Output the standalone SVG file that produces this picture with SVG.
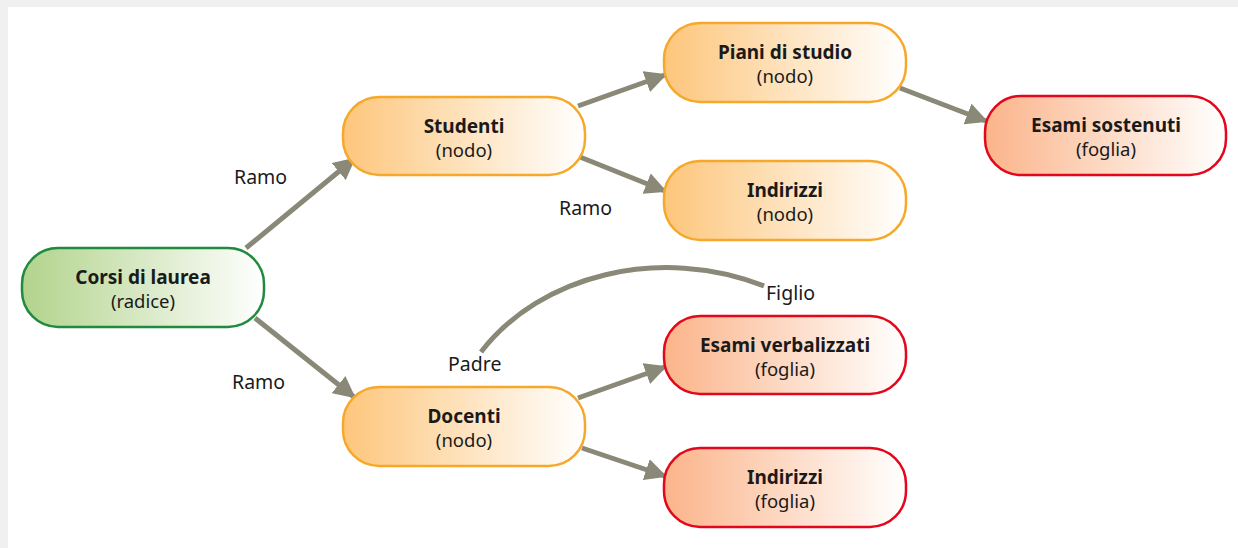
<svg xmlns="http://www.w3.org/2000/svg" width="1238" height="548" viewBox="0 0 1238 548">
<defs>
<linearGradient id="gGreen" x1="0" y1="0" x2="1" y2="0"><stop offset="0" stop-color="#b2d38c"/><stop offset="1" stop-color="#ffffff"/></linearGradient>
<linearGradient id="gOrange" x1="0" y1="0" x2="1" y2="0"><stop offset="0" stop-color="#fdc67c"/><stop offset="1" stop-color="#ffffff"/></linearGradient>
<linearGradient id="gRed" x1="0" y1="0" x2="1" y2="0"><stop offset="0" stop-color="#fbb48a"/><stop offset="1" stop-color="#ffffff"/></linearGradient>
<marker id="arr" viewBox="0 0 10 10" refX="9" refY="5" markerWidth="4.4" markerHeight="4.4" markerUnits="strokeWidth" orient="auto"><path d="M0,0 L10,5 L0,10 z" fill="#8a8877"/></marker>
</defs>
<style>
.box{stroke-width:2.5}
.green{fill:url(#gGreen);stroke:#1e8b3e}
.orange{fill:url(#gOrange);stroke:#f6a82a}
.red{fill:url(#gRed);stroke:#e2071b}
.t{font-family:"Noto Sans","Open Sans",sans-serif;font-size:18.5px;fill:#1a1a1a;text-anchor:middle}
.b{font-weight:700;font-size:19px}
.lbl{font-family:"Noto Sans","Open Sans",sans-serif;font-size:19.5px;fill:#1a1a1a}
.edge{stroke:#8a8877;stroke-width:5;fill:none}
</style>
<rect x="0" y="0" width="1238" height="548" fill="#f0f0f0"/>
<rect x="8" y="7" width="1230" height="541" fill="#ffffff"/>
<g id="connectors">
<line class="edge" x1="246" y1="248" x2="354" y2="159" marker-end="url(#arr)"/>
<line class="edge" x1="255" y1="318" x2="354" y2="397" marker-end="url(#arr)"/>
<line class="edge" x1="578" y1="106" x2="665" y2="75" marker-end="url(#arr)"/>
<line class="edge" x1="580" y1="157" x2="665" y2="191" marker-end="url(#arr)"/>
<line class="edge" x1="900" y1="88" x2="986" y2="121" marker-end="url(#arr)"/>
<line class="edge" x1="578" y1="398" x2="665" y2="367" marker-end="url(#arr)"/>
<line class="edge" x1="582" y1="448" x2="665" y2="476" marker-end="url(#arr)"/>
<path class="edge" d="M481,352 C540,275 660,245 764,286"/>
</g>
<g id="labels">
<text class="lbl" x="234" y="184">Ramo</text>
<text class="lbl" x="559" y="215">Ramo</text>
<text class="lbl" x="232" y="389">Ramo</text>
<text class="lbl" x="448" y="371">Padre</text>
<text class="lbl" x="766" y="300">Figlio</text>
</g>
<g id="corsi"><rect class="box green" x="22" y="248" width="242" height="79" rx="36"/><text class="t b" x="143" y="284">Corsi di laurea</text><text class="t" x="143" y="308">(radice)</text></g>
<g id="studenti"><rect class="box orange" x="343" y="97" width="242" height="78" rx="36"/><text class="t b" x="464" y="133">Studenti</text><text class="t" x="464" y="157">(nodo)</text></g>
<g id="piani"><rect class="box orange" x="664" y="23" width="242" height="79" rx="36"/><text class="t b" x="785" y="59">Piani di studio</text><text class="t" x="785" y="83">(nodo)</text></g>
<g id="indirizzi-nodo"><rect class="box orange" x="664" y="161" width="242" height="79" rx="36"/><text class="t b" x="785" y="197">Indirizzi</text><text class="t" x="785" y="221">(nodo)</text></g>
<g id="esami-sostenuti"><rect class="box red" x="985" y="96" width="241" height="79" rx="36"/><text class="t b" x="1106" y="132">Esami sostenuti</text><text class="t" x="1106" y="156">(foglia)</text></g>
<g id="esami-verbalizzati"><rect class="box red" x="664" y="316" width="242" height="78" rx="36"/><text class="t b" x="785" y="352">Esami verbalizzati</text><text class="t" x="785" y="376">(foglia)</text></g>
<g id="docenti"><rect class="box orange" x="343" y="387" width="242" height="79" rx="36"/><text class="t b" x="464" y="423">Docenti</text><text class="t" x="464" y="447">(nodo)</text></g>
<g id="indirizzi-foglia"><rect class="box red" x="664" y="448" width="242" height="79" rx="36"/><text class="t b" x="785" y="484">Indirizzi</text><text class="t" x="785" y="508">(foglia)</text></g>
</svg>
